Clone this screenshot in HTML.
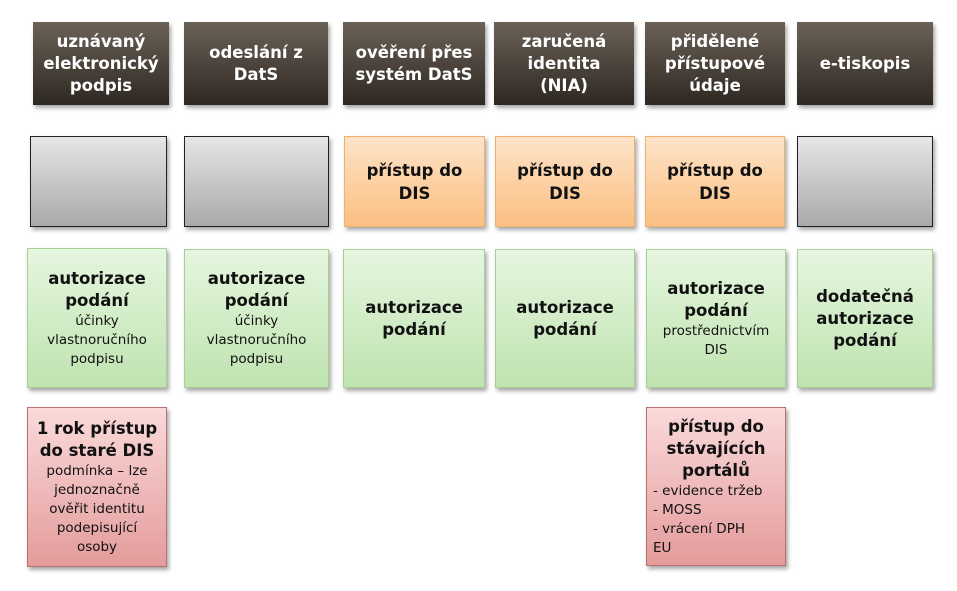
<!DOCTYPE html>
<html><head><meta charset="utf-8"><style>
body{margin:0;width:957px;height:591px;background:#fff;position:relative;overflow:hidden;font-family:"DejaVu Sans","Liberation Sans",sans-serif;}
.b{position:absolute;box-sizing:border-box;display:flex;flex-direction:column;align-items:center;justify-content:center;text-align:center;box-shadow:2px 3px 4px rgba(0,0,0,0.35);}
.h{background:linear-gradient(#6b6157,#2e2822);color:#fff;font-size:16.5px;line-height:22px;font-weight:bold;}
.g{background:linear-gradient(#e6e6e6,#a9a9a9);border:1.5px solid #222;}
.o{background:linear-gradient(#fde3c8,#fbbf82);border:1px solid #f0b070;color:#111;font-size:16.5px;font-weight:bold;line-height:23px;}
.gr{background:linear-gradient(#e5f6df,#bfe3b0);border:1px solid #a8cf98;color:#111;font-size:16.5px;font-weight:bold;line-height:22px;}
.r{background:linear-gradient(#fadada,#e49b9b);border:1px solid #b87070;color:#111;font-size:16.5px;font-weight:bold;line-height:22px;}
.s{font-weight:normal;font-size:13.5px;line-height:19px;}
</style></head><body>
<div class="b h" style="left:33px;top:22px;width:136px;height:83px">uznávaný<br>elektronický<br>podpis</div>
<div class="b h" style="left:184px;top:22px;width:144px;height:83px">odeslání z<br>DatS</div>
<div class="b h" style="left:343px;top:22px;width:142px;height:83px">ověření přes<br>systém DatS</div>
<div class="b h" style="left:494px;top:22px;width:140px;height:83px">zaručená<br>identita<br>(NIA)</div>
<div class="b h" style="left:645px;top:22px;width:140px;height:83px">přidělené<br>přístupové<br>údaje</div>
<div class="b h" style="left:797px;top:22px;width:136px;height:83px">e-tiskopis</div>

<div class="b g" style="left:30px;top:136px;width:137px;height:91px"></div>
<div class="b g" style="left:184px;top:136px;width:145px;height:91px"></div>
<div class="b o" style="left:344px;top:136px;width:141px;height:91px">přístup do<br>DIS</div>
<div class="b o" style="left:495px;top:136px;width:140px;height:91px">přístup do<br>DIS</div>
<div class="b o" style="left:645px;top:136px;width:140px;height:91px">přístup do<br>DIS</div>
<div class="b g" style="left:797px;top:136px;width:136px;height:91px"></div>

<div class="b gr" style="left:27px;top:248px;width:140px;height:140px">autorizace<br>podání<div class="s">účinky<br>vlastnoručního<br>podpisu</div></div>
<div class="b gr" style="left:184px;top:249px;width:145px;height:139px">autorizace<br>podání<div class="s">účinky<br>vlastnoručního<br>podpisu</div></div>
<div class="b gr" style="left:343px;top:249px;width:142px;height:139px">autorizace<br>podání</div>
<div class="b gr" style="left:495px;top:249px;width:140px;height:139px">autorizace<br>podání</div>
<div class="b gr" style="left:646px;top:249px;width:140px;height:139px">autorizace<br>podání<div class="s">prostřednictvím<br>DIS</div></div>
<div class="b gr" style="left:797px;top:249px;width:136px;height:139px">dodatečná<br>autorizace<br>podání</div>

<div class="b r" style="left:27px;top:407px;width:140px;height:160px">1 rok přístup<br>do staré DIS<div class="s">podmínka – lze<br>jednoznačně<br>ověřit identitu<br>podepisující<br>osoby</div></div>
<div class="b r" style="left:646px;top:407px;width:140px;height:159px">přístup do<br>stávajících<br>portálů<div class="s" style="text-align:left;align-self:flex-start;padding-left:6px">- evidence tržeb<br>- MOSS<br>- vrácení DPH<br>EU</div></div>
</body></html>
